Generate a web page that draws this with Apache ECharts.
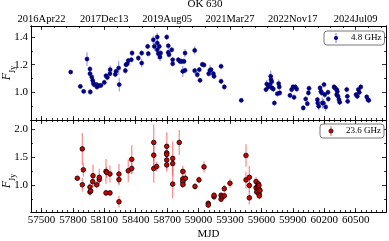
<!DOCTYPE html>
<html><head><meta charset="utf-8">
<script src="https://cdn.jsdelivr.net/npm/echarts@6/dist/echarts.min.js"></script>
<style>html,body{margin:0;padding:0;background:#fff}#c{width:389px;height:241px}</style>
</head><body><div id="c"></div>
<script>
// ---- data: 4.8 GHz ----
const mjd48 = [57779,57871,57903,57935,57963,57963,57966,57980,57989,57995,58002,58027,58030,58050,58068,58100,58116,58129,58154,58156,58205,58212,58237,58243,58301,58307,58320,58329,58358,58365,58425,58457,58457,58514,58520,58568,58578,58606,58606,58606,58616,58625,58638,58632,58696,58711,58711,58718,58744,58753,58753,58807,58823,58839,58849,58871,58861,58871,
58963,58963,58988,59007,59014,59036,59052,59097,59109,59119,59141,59148,59215,59215,59246,59408,59644,59651,59667,59682,59689,59692,59699,59702,59714,59724,59752,59765,59771,59775,59873,59889,59902,59912,59924,59937,60000,60023,60039,60049,60055,60135,60138,60147,60160,60169,60176,60182,60192,60198,60205,60214,60236,60239,60294,60303,60319,60325,60319,60332,60341,60348,60415,60421,60424,60504,60516,60526,60535,60549,60606,60618,60625];
const flux48 = [1.147,1.043,1.007,1.241,1.169,1.135,1.003,1.111,1.087,1.068,1.056,1.056,1.039,1.048,1.05,1.072,1.12,1.108,1.135,1.164,1.13,1.152,1.176,1.056,1.157,1.2,1.207,1.229,1.236,1.284,1.248,1.284,1.212,1.332,1.28,1.38,1.332,1.40,1.357,1.308,1.28,1.332,1.284,1.255,1.40,1.337,1.289,1.272,1.308,1.236,1.207,1.236,1.224,1.224,1.152,1.284,1.224,1.159,
1.303,1.157,1.128,1.164,1.087,1.202,1.198,1.135,1.159,1.164,1.135,1.116,1.188,1.08,1.039,0.942,1.02,1.06,1.039,1.056,1.116,1.092,1.077,1.032,1.024,0.923,0.99,1.063,1.039,0.996,0.978,1.02,1.039,0.964,1.039,1.024,0.887,0.952,0.918,0.996,1.029,0.947,0.923,0.899,1.032,1.007,0.996,0.923,0.923,1.056,0.983,0.894,1.0,0.952,1.039,1.032,1.02,1.007,0.983,0.971,0.947,0.928,1.02,0.971,0.935,0.983,0.971,1.02,1.0,1.039,0.967,0.947,0.942];
const err48 = [.01,.01,.01,.05,.02,.02,.02,.03,.02,.02,
.02,.015,.02,.015,.015,.02,.02,.02,.02,.03,
.02,.02,.05,.05,.02,.02,.02,.02,.02,.02,
.02,.02,.03,.02,.02,.03,.03,.03,.02,.02,
.04,.02,.02,.03,.02,.02,.03,.02,.02,.02,
.02,.02,.02,.02,.04,.03,.02,.02,
.03,.02,.02,.02,.02,.02,.02,.02,.04,.02,.02,.02,
.02,.02,.02,.015,.02,.03,.02,.02,.04,.02,
.02,.02,.02,.02,.02,.03,.02,.02,.02,.02,
.02,.02,.02,.02,.02,.02,.02,.02,.02,.02,
.02,.03,.02,.02,.02,.04,.03,.02,.02,.03,
.02,.02,.02,.02,.02,.02,.02,.02,.02,.02,
.02,.02,.02,.02,.02,.02,.02,.02,.02,.02,.02];
// ---- data: 23.6 GHz ----
const mjd236 = [57842,57890,57890,57900,57963,57963,57970,57989,57992,58027,58052,58052,58116,58123,58116,58154,58154,58240,58240,58240,58329,58362,58362,58572,58572,58572,58600,58696,58696,58696,58696,58696,58753,58753,58753,58816,58849,58849,58849,58849,58874,
58966,59004,59052,59093,59093,59148,59148,59215,59215,59227,59246,59246,59300,59453,59453,59485,59485,59485,59549,59549,59555,59565,59571,59571,59577,59581,59577,59587];
const flux236 = [1.128,1.648,1.012,1.277,0.972,0.885,0.903,1.069,1.173,1.012,1.104,1.145,1.249,1.232,0.868,0.868,1.203,1.203,1.104,0.712,1.26,1.463,1.3,1.762,1.537,1.3,1.336,1.693,1.578,1.55,1.45,1.364,1.48,1.388,1.024,1.762,1.249,1.116,1.069,1.017,1.128,
0.983,1.099,1.329,0.683,0.653,0.8,0.827,0.827,0.757,0.8,0.943,0.816,1.04,1.532,1.099,1.145,1.0,0.781,1.069,0.96,0.885,0.99,1.03,0.943,0.856,0.816,1.0,0.913];
const err236 = [.03,.28,.12,.12,.07,.07,.05,.1,.2,.06,.08,.15,.22,.1,.06,.05,.15,.18,.1,.1,.2,.25,.1,.32,.2,.25,.08,.25,.15,.1,.15,.12,.3,.12,.25,.22,.1,.1,.08,.06,.15,
.06,.06,.1,.05,.05,.06,.05,.05,.05,.05,.07,.05,.08,.2,.15,.2,.12,.12,.08,.08,.08,.06,.06,.06,.06,.06,.06,.06];

// ---- ticks & labels ----
const xMajorTicks = [57500,57800,58100,58400,58700,59000,59300,59600,59900,60200,60500];
const dateTicks = [57500,58100,58700,59300,59900,60500];
const dateLabels = ['2016Apr22','2017Dec13','2019Aug05','2021Mar27','2022Nov17','2024Jul09'];
const y0Major = [1.0,1.2,1.4];
const y0Minor = [0.9,1.1,1.3];
const y1Major = [1.0,1.5,2.0];
const y1Minor = [0.75,1.25,1.75];
const xMinorTicks = []; for (let v = 57400; v <= 60750; v += 50) xMinorTicks.push(v);
const dateMinorTicks = []; for (let v = 57500; v <= 60780; v += 120) dateMinorTicks.push(v);

const FONT = 'Liberation Serif';
const X_MIN = 57400, X_MAX = 60790;

function mkX(gridIndex, position, ticks, len, label, extra) {
  return Object.assign({
    type: 'value', gridIndex, position, min: X_MIN, max: X_MAX,
    axisLine: {show: true, onZero: false, lineStyle: {color: '#000', width: 1}},
    axisTick: {show: true, inside: true, length: len, customValues: ticks, lineStyle: {color: '#000', width: 0.8}},
    axisLabel: label ? Object.assign({show: true, customValues: ticks, color: '#000', fontFamily: FONT}, label) : {show: false},
    splitLine: {show: false}
  }, extra || {});
}
function mkY(gridIndex, position, min, max, ticks, len, label) {
  return {
    type: 'value', gridIndex, position, min, max,
    axisLine: {show: true, onZero: false, lineStyle: {color: '#000', width: 1}},
    axisTick: {show: true, inside: true, length: len, customValues: ticks, lineStyle: {color: '#000', width: 0.8}},
    axisLabel: label ? Object.assign({show: true, customValues: ticks, color: '#000', fontFamily: FONT}, label) : {show: false},
    splitLine: {show: false}
  };
}
function errSeries(xi, yi, mjd, flux, err, color, w) {
  return {
    type: 'custom', xAxisIndex: xi, yAxisIndex: yi, clip: true, silent: true, z: 2,
    data: mjd.map((m, i) => [m, flux[i], err[i]]),
    encode: {x: 0, y: 1},
    renderItem: (params, api) => {
      const x = api.value(0), y = api.value(1), e = api.value(2);
      const a = api.coord([x, y - e]), b = api.coord([x, y + e]);
      return {type: 'line', shape: {x1: a[0], y1: a[1], x2: b[0], y2: b[1]}, style: {stroke: color, lineWidth: w}};
    }
  };
}
function svgIcon(lineColor, fill, stroke) {
  const s = '<svg xmlns="http://www.w3.org/2000/svg" width="14" height="10" viewBox="0 0 14 10">' +
    '<line x1="4" y1="0" x2="4" y2="10" stroke="' + lineColor + '" stroke-width="1.5"/>' +
    '<circle cx="4" cy="5" r="2.1" fill="' + fill + '"' + (stroke ? ' stroke="' + stroke + '" stroke-width="0.7"' : '') + '/></svg>';
  return 'image://data:image/svg+xml;charset=utf-8,' + encodeURIComponent(s);
}

const BLUE_ERR = 'rgba(100,100,255,0.6)', RED_ERR = 'rgba(255,70,70,0.6)';
const labStyle = {fontFamily: FONT, fontSize: 9, color: '#000'};
const richF = {f: {fontFamily: FONT, fontStyle: 'italic', fontSize: 12, lineHeight: 16, verticalAlign: 'top', fill: '#000'},
               s: {fontFamily: FONT, fontSize: 8, lineHeight: 16, verticalAlign: 'bottom', fill: '#000'}};

const chart = echarts.init(document.getElementById('c'), null, {renderer: 'canvas'});
chart.setOption({
  animation: false,
  backgroundColor: '#fff',
  title: {text: 'OK 630', left: 205, top: -1, padding: 0, textAlign: 'center',
    textStyle: {fontFamily: FONT, fontSize: 11, fontWeight: 'normal', color: '#000'}},
  grid: [
    {left: 31, top: 26, width: 355, height: 94},
    {left: 31, top: 120, width: 355, height: 94}
  ],
  xAxis: [
    mkX(0, 'bottom', xMajorTicks, 4, null),
    mkX(0, 'bottom', xMinorTicks, 2, null),
    mkX(0, 'top', dateTicks, 4, {fontSize: 10.5, margin: 1.5, formatter: v => dateLabels[dateTicks.indexOf(Math.round(v))] || ''}),
    mkX(0, 'top', dateMinorTicks, 2, null),
    mkX(1, 'bottom', xMajorTicks, 4, {fontSize: 11, margin: 3, formatter: v => String(Math.round(v))},
      {name: 'MJD', nameLocation: 'middle', nameGap: 17, nameTextStyle: {fontFamily: FONT, fontSize: 11, color: '#000'}}),
    mkX(1, 'bottom', xMinorTicks, 2, null),
    mkX(1, 'top', xMajorTicks, 4, null),
    mkX(1, 'top', xMinorTicks, 2, null)
  ],
  yAxis: [
    mkY(0, 'left', 0.80, 1.48, y0Major, 4, {fontSize: 11, margin: 3, formatter: v => v.toFixed(1)}),
    mkY(0, 'left', 0.80, 1.48, y0Minor, 2, null),
    mkY(0, 'right', 0.80, 1.48, y0Major, 4, null),
    mkY(0, 'right', 0.80, 1.48, y0Minor, 2, null),
    mkY(1, 'left', 0.53, 2.16, y1Major, 4, {fontSize: 11, margin: 3, formatter: v => v.toFixed(1)}),
    mkY(1, 'left', 0.53, 2.16, y1Minor, 2, null),
    mkY(1, 'right', 0.53, 2.16, y1Major, 4, null),
    mkY(1, 'right', 0.53, 2.16, y1Minor, 2, null)
  ],
  legend: [
    {data: [{name: '4.8 GHz', icon: svgIcon(BLUE_ERR, '#000090')}], left: 324, top: 31,
      padding: [2, 3, 2, 8], itemWidth: 14, itemHeight: 10, textStyle: labStyle, selectedMode: false,
      borderColor: '#555', borderWidth: 0.8, borderRadius: 3, backgroundColor: '#fff'},
    {data: [{name: '23.6 GHz', icon: svgIcon(RED_ERR, '#d40000', '#000')}], left: 320, top: 124,
      padding: [2, 3, 2, 7], itemWidth: 14, itemHeight: 10, textStyle: labStyle, selectedMode: false,
      borderColor: '#555', borderWidth: 0.8, borderRadius: 3, backgroundColor: '#fff'}
  ],
  graphic: [
    {type: 'text', x: 9, y: 73, rotation: Math.PI / 2,
      style: {text: '{f|F}{s|Jy}', align: 'center', verticalAlign: 'middle', rich: richF}},
    {type: 'text', x: 9, y: 181, rotation: Math.PI / 2,
      style: {text: '{f|F}{s|Jy}', align: 'center', verticalAlign: 'middle', rich: richF}}
  ],
  series: [
    errSeries(0, 0, mjd48, flux48, err48, BLUE_ERR, 1.3),
    {name: '4.8 GHz', type: 'scatter', xAxisIndex: 0, yAxisIndex: 0, z: 3, symbolSize: 4.2,
      itemStyle: {color: '#000090', borderColor: '#00004a', borderWidth: 0.4, opacity: 1},
      data: mjd48.map((m, i) => [m, flux48[i]])},
    errSeries(4, 4, mjd236, flux236, err236, RED_ERR, 1.3),
    {name: '23.6 GHz', type: 'scatter', xAxisIndex: 4, yAxisIndex: 4, z: 3, symbolSize: 4.6,
      itemStyle: {color: '#d40000', borderColor: '#000', borderWidth: 0.8, opacity: 1},
      data: mjd236.map((m, i) => [m, flux236[i]])}
  ]
});
</script></body></html>
